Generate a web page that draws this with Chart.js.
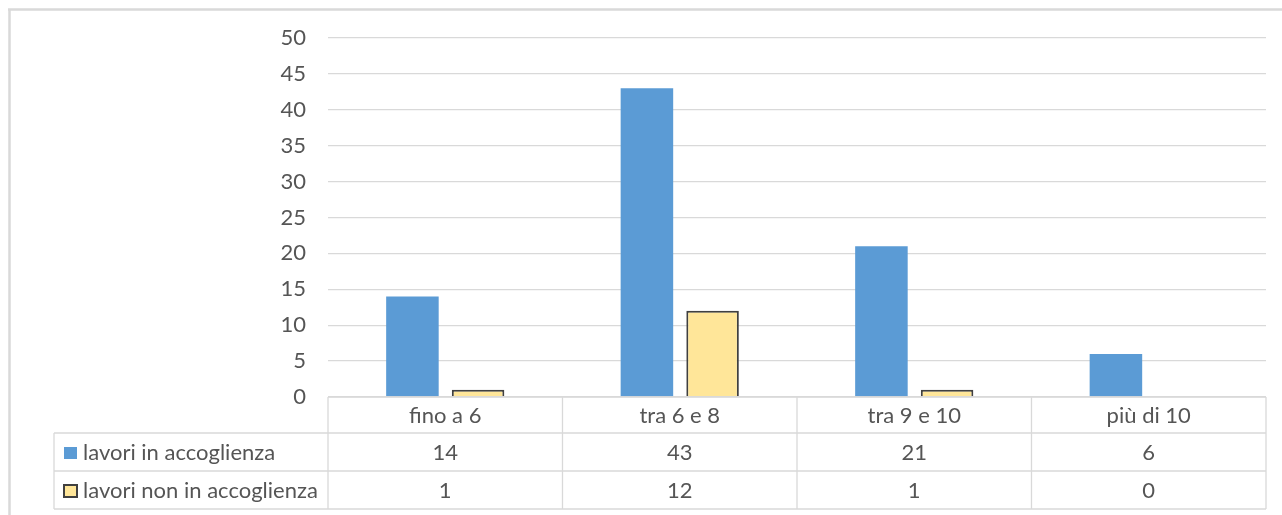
<!DOCTYPE html>
<html>
<head>
<meta charset="utf-8">
<script src="https://cdn.jsdelivr.net/npm/chart.js@4.4.1/dist/chart.umd.min.js"></script>
<style>
  html, body { margin: 0; padding: 0; background: #fff; }
  #wrap { width: 1282px; height: 515px; position: relative; }
</style>
</head>
<body>
<div id="wrap"><canvas id="c" width="1282" height="515"></canvas></div>
<script>
// dati
var categories = ['fino a 6', 'tra 6 e 8', 'tra 9 e 10', 'più di 10'];
var seriesNames = ['lavori in accoglienza', 'lavori non in accoglienza'];
var accoglienza = [14, 43, 21, 6];
var nonAccoglienza = [1, 12, 1, 0];
var yMin = 0, yMax = 50, yStep = 5;

var FONT = 'Lato';
var FSIZE = 22;
var TXT = '#555555';
var GRID = '#d9d9d9';
var BLUE = '#5b9bd5', YEL = '#ffe699', YEL_B = '#404040';

// tabella dati sotto il grafico (stile Excel)
var tablePlugin = {
  id: 'dataTable',
  beforeDraw: function (chart) {
    var ctx = chart.ctx;
    ctx.save();
    ctx.strokeStyle = GRID;
    ctx.lineWidth = 2.5;
    ctx.beginPath();
    ctx.moveTo(8, 9.5); ctx.lineTo(1282, 9.5);
    ctx.moveTo(9.5, 9); ctx.lineTo(9.5, 515);
    ctx.stroke();
    ctx.restore();
  },
  afterDraw: function (chart) {
    var ctx = chart.ctx, x = chart.scales.x, ca = chart.chartArea;
    var n = categories.length;
    var cw = (x.right - x.left) / n;
    var hTop = ca.bottom, hBot = hTop + 36;
    var r1Bot = hBot + 38, r2Bot = r1Bot + 38;
    var leftX = 54;

    ctx.save();
    ctx.strokeStyle = GRID;
    ctx.lineWidth = 1.3;
    ctx.beginPath();
    // orizzontali
    ctx.moveTo(x.left, hTop); ctx.lineTo(x.right, hTop);
    ctx.moveTo(leftX, hBot); ctx.lineTo(x.right, hBot);
    ctx.moveTo(leftX, r1Bot); ctx.lineTo(x.right, r1Bot);
    ctx.moveTo(leftX, r2Bot); ctx.lineTo(x.right, r2Bot);
    // verticali
    for (var i = 0; i <= n; i++) {
      var vx = x.left + i * cw;
      ctx.moveTo(vx, hTop); ctx.lineTo(vx, r2Bot);
    }
    ctx.moveTo(leftX, hBot); ctx.lineTo(leftX, r2Bot);
    ctx.stroke();

    ctx.fillStyle = TXT;
    ctx.font = FSIZE + 'px ' + FONT;
    ctx.textBaseline = 'middle';
    ctx.textAlign = 'center';
    var rows = [accoglienza, nonAccoglienza];
    var yH = (hTop + hBot) / 2 + 1;
    var yR = [(hBot + r1Bot) / 2 + 1, (r1Bot + r2Bot) / 2 + 1];
    for (var c = 0; c < n; c++) {
      var cx = x.getPixelForValue(c);
      ctx.fillText(categories[c], cx, yH);
      for (var r = 0; r < rows.length; r++) {
        ctx.fillText(String(rows[r][c]), cx, yR[r]);
      }
    }
    // etichette serie con legenda
    ctx.textAlign = 'left';
    for (var s = 0; s < seriesNames.length; s++) {
      var sy = yR[s];
      if (s === 0) {
        ctx.fillStyle = BLUE;
        ctx.fillRect(64, sy - 6, 13, 12);
      } else {
        ctx.fillStyle = YEL;
        ctx.fillRect(64, sy - 6, 13, 12);
        ctx.strokeStyle = YEL_B;
        ctx.lineWidth = 2;
        ctx.strokeRect(64, sy - 6, 13, 12);
      }
      ctx.fillStyle = TXT;
      ctx.fillText(seriesNames[s], 83, sy);
    }
    ctx.restore();
  }
};

new Chart(document.getElementById('c'), {
  type: 'bar',
  data: {
    labels: categories,
    datasets: [
      { label: seriesNames[0], data: accoglienza, backgroundColor: BLUE, borderWidth: 0 },
      { label: seriesNames[1], data: nonAccoglienza, backgroundColor: YEL, borderColor: YEL_B, borderWidth: 2 }
    ]
  },
  options: {
    responsive: false,
    animation: false,
    devicePixelRatio: 1,
    layout: { padding: { top: 38, right: 16, bottom: 118, left: 0 } },
    categoryPercentage: 0.56,
    barPercentage: 0.8,
    plugins: { legend: { display: false }, tooltip: { enabled: false } },
    scales: {
      x: { display: false, offset: true },
      y: {
        min: yMin, max: yMax,
        ticks: { stepSize: yStep, color: TXT, padding: 22, font: { family: FONT, size: FSIZE } },
        grid: { color: GRID, lineWidth: 1.3, drawTicks: false },
        border: { display: false },
        afterFit: function (scale) { scale.width = 328; }
      }
    }
  },
  plugins: [tablePlugin]
});
</script>
</body>
</html>
